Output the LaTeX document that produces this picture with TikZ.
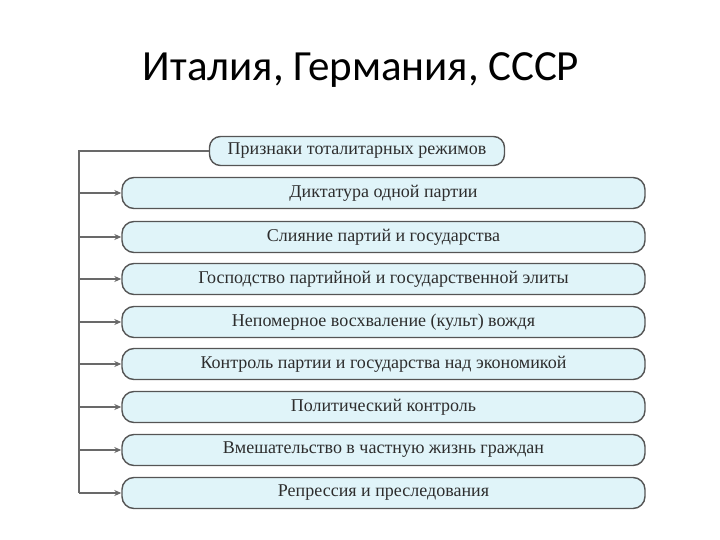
\documentclass[tikz,border=0pt]{standalone}
\usepackage{fontspec}
\setmainfont{Liberation Serif}
\newfontfamily\titlefont{Carlito}
\usetikzlibrary{arrows.meta, positioning}
\definecolor{boxcyan}{RGB}{224,244,249}
\definecolor{boxedge}{RGB}{85,85,85}
\definecolor{linegray}{RGB}{105,105,105}
\definecolor{textgray}{RGB}{45,45,45}
\tikzset{
  hdrbox/.style={
    draw=boxedge, line width=1.4pt, fill=boxcyan, rounded corners=11pt,
    minimum width=295pt, minimum height=29pt,
    font=\fontsize{18}{20}\selectfont, text=textgray, inner sep=2pt,
  },
  rowbox/.style={
    draw=boxedge, line width=1.4pt, fill=boxcyan, rounded corners=12pt,
    minimum width=523pt, minimum height=31pt,
    font=\fontsize{18}{20}\selectfont, text=textgray, inner sep=2pt,
  },
  trunkline/.style={line width=1.5pt, linegray},
  linkarr/.style={-{Stealth[length=7pt,width=6pt]}, line width=1.5pt, linegray},
}

\begin{document}
\begin{tikzpicture}[x=1pt, y=-1pt]
\useasboundingbox (0,0) rectangle (720,540);

% title
\node[font=\titlefont\fontsize{43}{50}\selectfont] (title) at (361,70) {Италия, Германия, СССР};

% header
\node[hdrbox] (hdr) at (357,151) {Признаки тоталитарных режимов};

% rows
\foreach \i/\y/\txt in {
  1/193/Диктатура одной партии,
  2/237/Слияние партий и государства,
  3/279/Господство партийной и государственной элиты,
  4/322/Непомерное восхваление (культ) вождя,
  5/364/Контроль партии и государства над экономикой,
  6/407/Политический контроль,
  7/450/Вмешательство в частную жизнь граждан,
  8/493/Репрессия и преследования} {
  \node[rowbox] (r\i) at (383.5,\y) {\txt};
}

% trunk line
\coordinate (top) at (79,151);
\coordinate (bot) at (79,493);
\draw[trunkline] (hdr.west) -- (top) -- (bot);

% arrows to rows
\foreach \i in {1,...,8} {
  \draw[linkarr] (top |- r\i.west) -- (r\i.west);
}

\end{tikzpicture}
\end{document}
